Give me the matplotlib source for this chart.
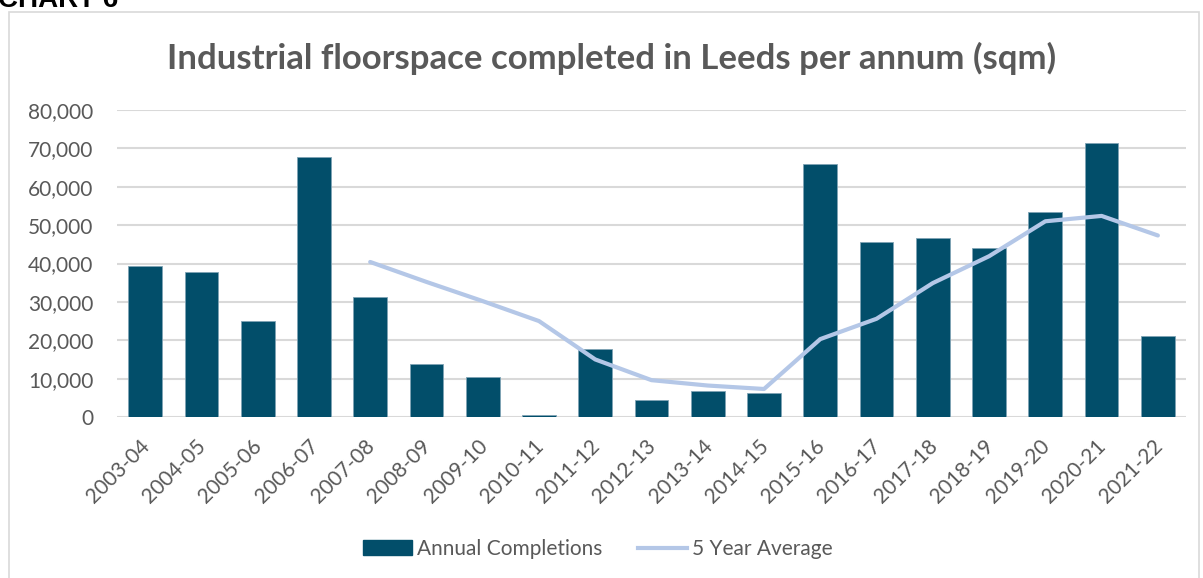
import matplotlib.pyplot as plt
import matplotlib.patches as mpatches
from matplotlib.ticker import FuncFormatter

# данные графика
years = ['2003-04', '2004-05', '2005-06', '2006-07', '2007-08', '2008-09', '2009-10',
         '2010-11', '2011-12', '2012-13', '2013-14', '2014-15', '2015-16', '2016-17',
         '2017-18', '2018-19', '2019-20', '2020-21', '2021-22']
completions = [39300, 37800, 25000, 67800, 31200, 13800, 10500, 500, 17800, 4500,
               6800, 6300, 65800, 45700, 46700, 44100, 53400, 71400, 21200]
avg_years = years[4:]
five_year_avg = [40400, 35200, 30200, 25000, 15000, 9600, 8200, 7300, 20300, 25600,
                 34900, 41900, 51000, 52400, 47300]

bar_color = '#024E6A'
line_color = '#B4C7E7'
text_color = '#595959'

plt.rcParams['font.family'] = ['Lato', 'DejaVu Sans']

fig = plt.figure(figsize=(12.03, 5.78), dpi=100)
ax = fig.add_axes([117 / 1203, 1 - 417 / 578, (1186 - 117) / 1203, (417 - 110) / 578])

x = list(range(len(years)))
ax.bar(x, completions, width=0.6, color=bar_color, edgecolor='#7FA3B5', linewidth=0.6,
       zorder=2, label='Annual Completions')
avg_x = [years.index(y) for y in avg_years]
ax.plot(avg_x, five_year_avg, color=line_color, linewidth=3, solid_capstyle='round',
        zorder=3, label='5 Year Average')

ax.set_xlim(-0.5, len(years) - 0.5)
ax.set_ylim(0, 80000)
ax.set_yticks(range(0, 80001, 10000))
ax.yaxis.set_major_formatter(FuncFormatter(lambda v, p: f'{int(v):,}'))
ax.grid(axis='y', color='#D9D9D9', linewidth=1.5, zorder=0)
ax.set_axisbelow(True)
for s in ax.spines.values():
    s.set_visible(False)
ax.tick_params(length=0, colors=text_color, labelsize=15)
ax.tick_params(axis='y', pad=17)
ax.set_xticks(x)
ax.set_xticklabels(years, rotation=45, ha='right', va='center_baseline',
                   rotation_mode='anchor')
ax.tick_params(axis='x', pad=18)

# заголовок и рамка
fig.text(0.508, 1 - 58 / 578, 'Industrial floorspace completed in Leeds per annum (sqm)',
         ha='center', va='center', fontsize=25, fontweight='bold', color=text_color)
fig.text(-0.002, 1 - 7 / 578, 'CHART 6', ha='left', va='baseline', fontsize=20,
         fontweight='bold', color='black', family='Liberation Sans')
frame = mpatches.Rectangle((9 / 1203, -0.05), (1199 - 9) / 1203, 1 - 12 / 578 + 0.05,
                           transform=fig.transFigure, fill=False, edgecolor='#D9D9D9',
                           linewidth=1.2)
fig.patches.append(frame)

handles = [mpatches.Patch(color=bar_color, label='Annual Completions'),
           plt.Line2D([], [], color=line_color, linewidth=3, label='5 Year Average')]
fig.legend(handles=handles, loc='center', bbox_to_anchor=(0.497, 1 - 549 / 578), ncol=2,
           frameon=False, fontsize=15, labelcolor=text_color, handlelength=2.35,
           handletextpad=0.25, columnspacing=1.7)

fig.savefig('out.png', dpi=100)
